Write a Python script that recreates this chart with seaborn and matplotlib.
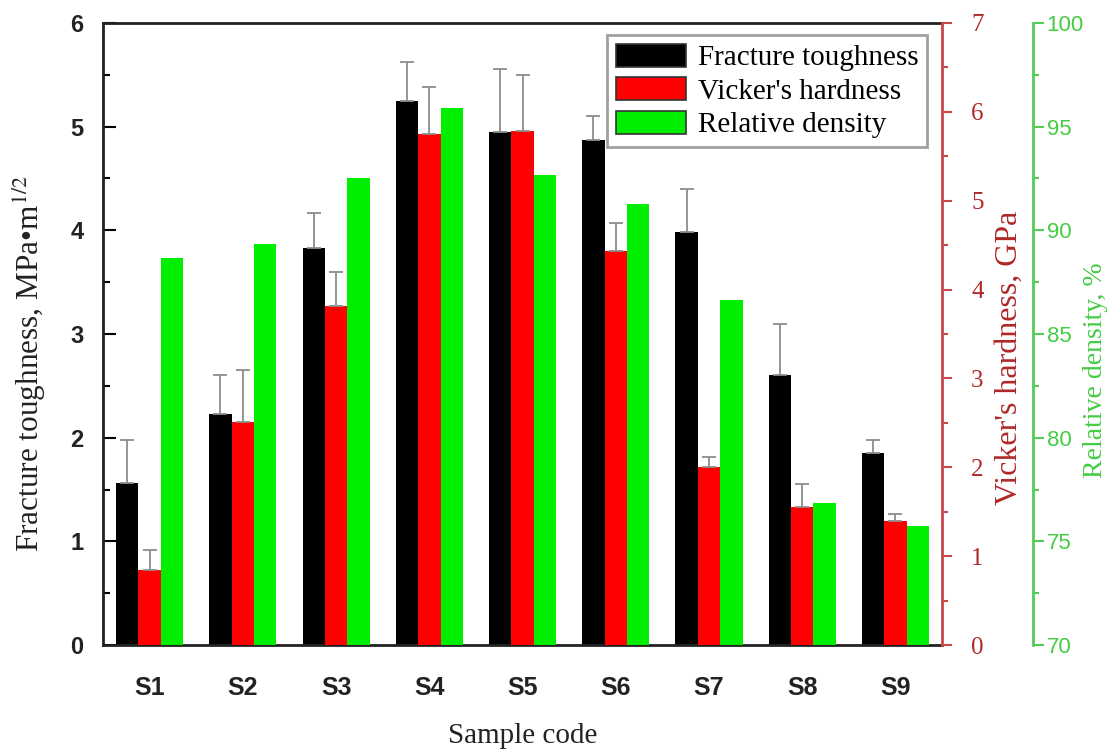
import numpy as np
import pandas as pd
import matplotlib
matplotlib.use('Agg')
import matplotlib.pyplot as plt
from matplotlib.patches import Patch
from matplotlib.ticker import MultipleLocator
import seaborn as sns

# values
samples = ['S1', 'S2', 'S3', 'S4', 'S5', 'S6', 'S7', 'S8', 'S9']
toughness = [1.56, 2.23, 3.83, 5.25, 4.95, 4.87, 3.98, 2.60, 1.85]
toughness_err = [0.42, 0.37, 0.34, 0.37, 0.61, 0.23, 0.42, 0.50, 0.13]
hardness = [0.84, 2.51, 3.82, 5.75, 5.78, 4.43, 2.00, 1.55, 1.40]
hardness_err = [0.23, 0.58, 0.38, 0.53, 0.64, 0.32, 0.12, 0.26, 0.08]
density = [88.65, 89.35, 92.5, 95.9, 92.65, 91.25, 86.65, 76.85, 75.75]

series = ['Fracture toughness', "Vicker's hardness", 'Relative density']
colors = {'Fracture toughness': '#000000',
          "Vicker's hardness": '#ff0000',
          'Relative density': '#00ee00'}

df = pd.DataFrame({
    'sample': samples * 3,
    'series': [s for s in series for _ in samples],
    'value': toughness + hardness + density,
})

plt.rcParams['font.family'] = ['Liberation Serif', 'DejaVu Serif']
plt.rcParams['mathtext.fontset'] = 'stix'

fig = plt.figure(figsize=(11.15, 7.56), dpi=100)
ax = fig.add_axes([0.0924, 0.1468, 0.7525, 0.8228])
ax2 = ax.twinx()
ax3 = ax.twinx()

red_axis = '#c84848'
red_text = '#b02828'
green_axis = '#55cc55'
green_text = '#44cc44'

# one series per axis, dodged as if all three shared the axis
for a, s in zip([ax, ax2, ax3], series):
    sns.barplot(data=df[df['series'] == s], x='sample', y='value', hue='series',
                hue_order=series, palette=colors, order=samples, width=0.72,
                dodge=True, saturation=1, errorbar=None, legend=False, ax=a)


def add_err(a, vals, errs):
    bars = sorted(a.patches, key=lambda p: p.get_x())
    xs = [p.get_x() + p.get_width() / 2 for p in bars]
    a.errorbar(xs, vals, yerr=[np.zeros(len(vals)), errs], fmt='none',
               ecolor='#8c8c8c', elinewidth=1.3, capsize=5, capthick=1.3)


add_err(ax, toughness, toughness_err)
add_err(ax2, hardness, hardness_err)

ax.set_xlim(-0.5, 8.5)
ax.set_ylim(0, 6)
ax2.set_ylim(0, 7)
ax3.set_ylim(70, 100)

# left axis
ax.yaxis.set_major_locator(MultipleLocator(1))
ax.yaxis.set_minor_locator(MultipleLocator(0.5))
ax.tick_params(axis='y', which='major', direction='in', length=9, width=1.5, pad=14)
ax.tick_params(axis='y', which='minor', direction='in', length=5, width=1.5)
ax.tick_params(axis='x', length=0, pad=22)
for lab in ax.get_yticklabels():
    lab.set_fontfamily('Liberation Sans')
    lab.set_fontweight('bold')
    lab.set_fontsize(17)
    lab.set_color('#222222')
for lab in ax.get_xticklabels():
    lab.set_fontfamily('Liberation Sans')
    lab.set_fontweight('bold')
    lab.set_fontsize(18)
    lab.set_color('#222222')
for sp in ['left', 'top', 'bottom']:
    ax.spines[sp].set_linewidth(2)
    ax.spines[sp].set_color('#222222')
ax.spines['right'].set_visible(False)
ax.set_ylabel('Fracture toughness, MPa\u2022m$^{1/2}$', fontsize=22.5, color='#222222')
ax.yaxis.set_label_coords(-0.066, 0.453)
ax.set_xlabel('Sample code', fontsize=21, color='#222222')
ax.xaxis.set_label_coords(0.5, -0.125)

# red hardness axis
for sp in ['left', 'top', 'bottom']:
    ax2.spines[sp].set_visible(False)
ax2.spines['right'].set_color(red_axis)
ax2.spines['right'].set_linewidth(2)
ax2.yaxis.set_major_locator(MultipleLocator(1))
ax2.yaxis.set_minor_locator(MultipleLocator(0.5))
ax2.tick_params(axis='y', which='major', direction='out', length=7, width=1.5,
                color=red_axis, labelcolor=red_text, labelsize=18, pad=14)
ax2.tick_params(axis='y', which='minor', direction='out', length=4, width=1.5, color=red_axis)
ax2.set_ylabel("Vicker's hardness, GPa", fontsize=23, color=red_text)
ax2.yaxis.set_label_coords(1.063, 0.461)

# green density axis
for sp in ['left', 'top', 'bottom']:
    ax3.spines[sp].set_visible(False)
ax3.spines['right'].set_position(('axes', 1.108))
ax3.spines['right'].set_color(green_axis)
ax3.spines['right'].set_linewidth(2)
ax3.yaxis.set_major_locator(MultipleLocator(5))
ax3.yaxis.set_minor_locator(MultipleLocator(2.5))
ax3.tick_params(axis='y', which='major', direction='out', length=8, width=1.5,
                color=green_axis, labelcolor=green_text, pad=2)
ax3.tick_params(axis='y', which='minor', direction='out', length=4, width=1.5, color=green_axis)
for lab in ax3.get_yticklabels():
    lab.set_fontfamily('Liberation Sans')
    lab.set_fontsize(16)
ax3.set_ylabel('Relative density, %', fontsize=20, color=green_text)
ax3.yaxis.set_label_coords(1.168, 0.442)

for a in [ax2, ax3]:
    a.set_xlabel('')
    a.tick_params(axis='x', length=0, labelbottom=False)

handles = [Patch(facecolor=colors[s], edgecolor='#333333', linewidth=1.2, label=s) for s in series]
leg = ax3.legend(handles=handles, loc='upper right', bbox_to_anchor=(0.982, 0.981),
                 fontsize=21, frameon=True, fancybox=False, edgecolor='#888888',
                 handlelength=2.4, handleheight=0.85, labelspacing=0.2,
                 handletextpad=0.4, borderpad=0.3, borderaxespad=0)
leg.get_frame().set_linewidth(2)

fig.savefig('out.png', dpi=100)
